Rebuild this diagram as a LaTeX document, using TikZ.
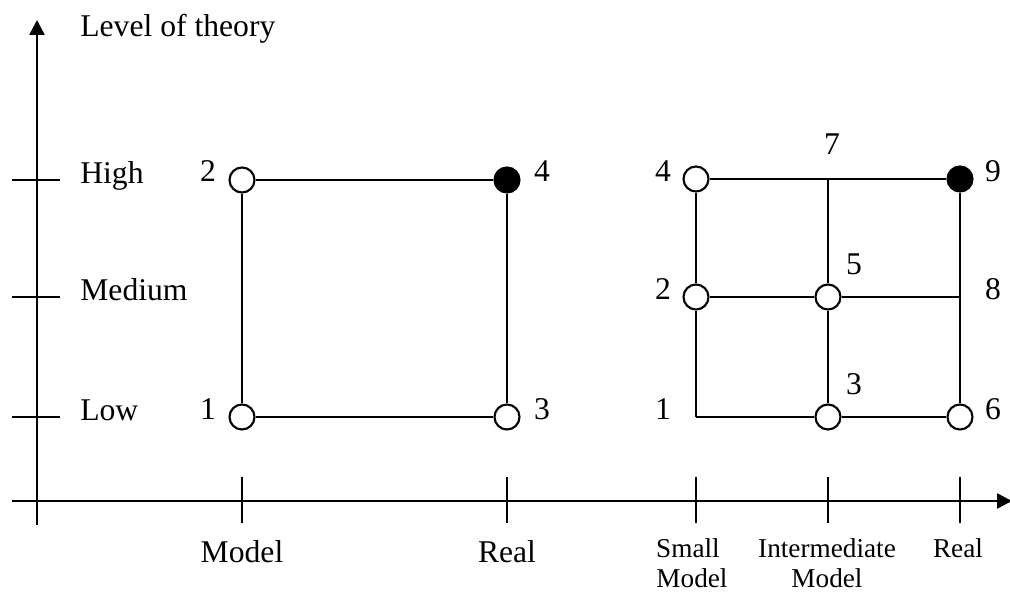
\documentclass[tikz,border=0pt]{standalone}
\usepackage{fontspec}
\setmainfont{Liberation Serif}
\usepackage{tikz}
\usetikzlibrary{shapes,arrows.meta,positioning,calc}

\tikzset{
  state/.style={circle, draw, line width=1.2pt, fill=white, minimum size=0.5cm, inner sep=0pt},
  target/.style={state, fill=black},
  grid line/.style={line width=1.2pt},
  axis line/.style={line width=1.4pt},
  lbl/.style={anchor=base, inner sep=0pt, font=\fontsize{18}{21}\selectfont},
  smalllbl/.style={anchor=base, inner sep=0pt, font=\fontsize{15.5}{18}\selectfont}
}

\begin{document}
\begin{tikzpicture}[scale=1.0]
\useasboundingbox (0,0) rectangle (20.2,11.84);
% axes
\coordinate (yb) at (0.74,1.34);
\coordinate (yt) at (0.74,11.44);
\coordinate (xl) at (0.24,1.82);
\coordinate (xr) at (20.24,1.82);
\draw[axis line, -{Triangle[length=0.3cm,width=0.3cm]}] (yb) -- (yt);
\draw[axis line, -{Triangle[length=0.3cm,width=0.3cm]}] (xl) -- (xr);
\node[lbl, anchor=base west] (ylabel) at (1.6,11.1) {Level of theory};
% level ticks
\foreach \y/\name in {8.24/High, 5.9/Medium, 3.5/Low} {
  \draw[axis line] (0.24,\y) -- (1.2,\y);
  \node[lbl, anchor=base west] (lv\name) at (1.6,\y-0.08) {\name};
}
% size ticks
\foreach \x in {4.84, 10.14, 13.92, 16.56, 19.2}
  \draw[axis line] (\x,1.38) -- (\x,2.3);
\node[lbl] (mdl) at (4.84,0.58) {Model};
\node[lbl] (rl) at (10.14,0.58) {Real};
\node[smalllbl] (sm) at (13.76,0.68) {Small};
\node[smalllbl] (smb) at (13.84,0.08) {Model};
\node[smalllbl] (im) at (16.54,0.68) {Intermediate};
\node[smalllbl] (imb) at (16.54,0.08) {Model};
\node[smalllbl] (rr) at (19.16,0.68) {Real};

% two-layer scheme
\node[state] (l1) at (4.84,3.5) {};
\node[state] (l2) at (4.84,8.24) {};
\node[state] (l3) at (10.14,3.5) {};
\node[target] (l4) at (10.14,8.24) {};
\draw[grid line] (l1) -- (l2) -- (l4) -- (l3) -- (l1);
\node[lbl] (n1) at (4.16,3.44) {1};
\node[lbl] (n2) at (4.16,8.2) {2};
\node[lbl] (n3) at (10.84,3.44) {3};
\node[lbl] (n4) at (10.84,8.2) {4};

% three-layer scheme
\coordinate (r1) at (13.92,3.5);
\node[state] (r2) at (13.92,5.9) {};
\node[state] (r3) at (16.56,3.5) {};
\node[state] (r4) at (13.92,8.26) {};
\node[state] (r5) at (16.56,5.9) {};
\node[state] (r6) at (19.2,3.5) {};
\coordinate (r7) at (16.56,8.26);
\coordinate (r8) at (19.2,5.9);
\node[target] (r9) at (19.2,8.26) {};
\draw[grid line] (r4) -- (r7) -- (r9);
\draw[grid line] (r2) -- (r5) -- (r8);
\draw[grid line] (r1) -- (r3) -- (r6);
\draw[grid line] (r4) -- (r2) -- (r1);
\draw[grid line] (r7) -- (r5) -- (r3);
\draw[grid line] (r9) -- (r8) -- (r6);
\node[lbl] (m1) at (13.26,3.44) {1};
\node[lbl] (m2) at (13.26,5.84) {2};
\node[lbl] (m3) at (17.08,3.94) {3};
\node[lbl] (m4) at (13.26,8.2) {4};
\node[lbl] (m5) at (17.08,6.34) {5};
\node[lbl] (m6) at (19.86,3.44) {6};
\node[lbl] (m7) at (16.64,8.74) {7};
\node[lbl] (m8) at (19.86,5.84) {8};
\node[lbl] (m9) at (19.86,8.2) {9};
\end{tikzpicture}
\end{document}
